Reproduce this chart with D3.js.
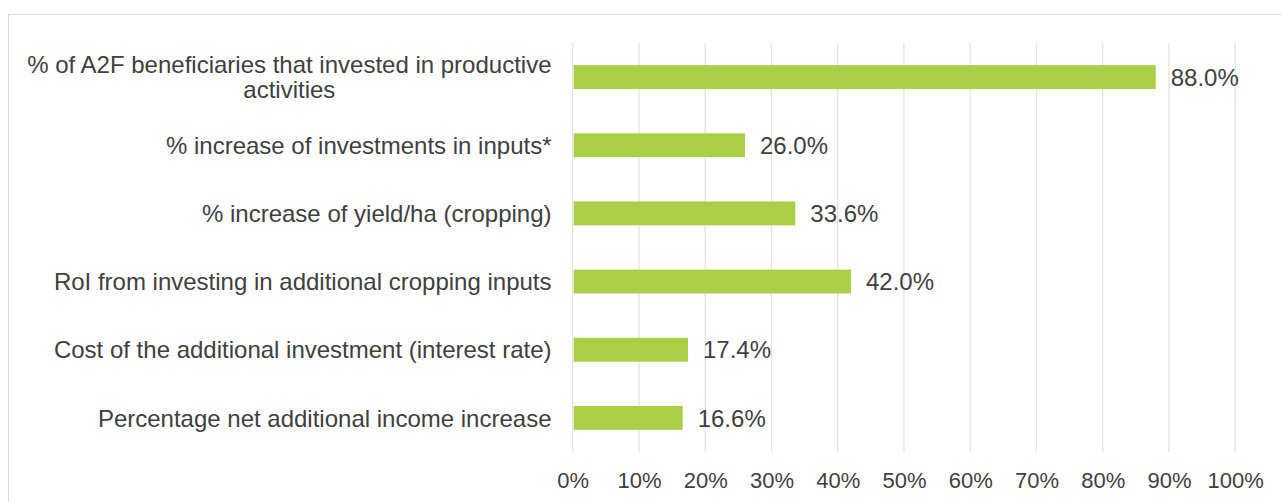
<!DOCTYPE html>
<html>
<head>
<meta charset="utf-8">
<script src="https://cdn.jsdelivr.net/npm/d3@7"></script>
<style>
  html, body { margin: 0; padding: 0; background: #fff; }
  svg { display: block; }
  text { font-family: "Liberation Sans", Arial, sans-serif; fill: #404040; }
</style>
</head>
<body>
<svg id="chart" width="1282" height="502"></svg>
<script>
// Indicators (top to bottom) and their percentage values
const categories = [
  ["% of A2F beneficiaries that invested in productive", "activities"],
  ["% increase of investments in inputs*"],
  ["% increase of yield/ha (cropping)"],
  ["RoI from investing in additional cropping inputs"],
  ["Cost of the additional investment (interest rate)"],
  ["Percentage net additional income increase"]
];
const values = [88.0, 26.0, 33.6, 42.0, 17.4, 16.6];
const tickValues = [0, 10, 20, 30, 40, 50, 60, 70, 80, 90, 100];

const svg = d3.select("#chart");
const W = 1282, H = 502;

// Chart frame
svg.append("rect")
  .attr("x", 8.5).attr("y", 14.5)
  .attr("width", W + 10).attr("height", H + 10)
  .attr("fill", "none").attr("stroke", "#d9d9d9").attr("stroke-width", 1);

const plot = { left: 572.7, right: 1235.2, top: 43, bottom: 452 };

const x = d3.scaleLinear().domain([0, 100]).range([plot.left, plot.right]);
const y = d3.scaleBand()
  .domain(d3.range(categories.length))
  .range([plot.top, plot.bottom])
  .paddingInner(0.65).paddingOuter(0.325);

// Vertical gridlines
svg.append("g").selectAll("line")
  .data(tickValues)
  .join("line")
  .attr("x1", d => x(d)).attr("x2", d => x(d))
  .attr("y1", plot.top).attr("y2", plot.bottom)
  .attr("stroke", "#e3e3e3").attr("stroke-width", 1.3);

// Bottom axis tick labels
const xAxis = d3.axisBottom(x).tickValues(tickValues).tickFormat(d => d + "%").tickSize(0).tickPadding(0);
const gx = svg.append("g").attr("transform", `translate(0,${plot.bottom})`).call(xAxis);
gx.select(".domain").remove();
gx.selectAll("text")
  .attr("dy", null)
  .attr("y", 36)
  .style("font-size", "22px")
  .style("font-family", "'Liberation Sans', Arial, sans-serif")
  .attr("fill", "#404040");

// Bars
svg.append("g").selectAll("rect")
  .data(values)
  .join("rect")
  .attr("x", x(0) + 1)
  .attr("y", (d, i) => y(i))
  .attr("width", d => x(d) - x(0) - 1)
  .attr("height", y.bandwidth())
  .attr("fill", "#a9cf46");

// Value labels
svg.append("g").selectAll("text")
  .data(values)
  .join("text")
  .attr("x", d => x(d) + 15)
  .attr("y", (d, i) => y(i) + y.bandwidth() / 2)
  .attr("dy", "0.36em")
  .style("font-size", "24px")
  .text(d => d.toFixed(1) + "%");

// Category labels (multi-line labels are centred within a right-aligned block)
const labelRight = 551.5;
const lineH = 25;
const lg = svg.append("g");
categories.forEach((lines, i) => {
  const cy = y(i) + y.bandwidth() / 2;
  const first = cy - (lines.length - 1) * lineH / 2;
  const t = lg.append("text").style("font-size", "24px");
  lines.forEach((s, k) => t.append("tspan").text(s));
  const widths = t.selectAll("tspan").nodes().map(n => n.getComputedTextLength());
  const blockW = d3.max(widths);
  const centerX = labelRight - blockW / 2;
  t.selectAll("tspan")
    .attr("x", centerX)
    .attr("text-anchor", "middle")
    .attr("y", (d, k) => first + k * lineH)
    .attr("dy", "0.36em");
});
</script>
</body>
</html>
